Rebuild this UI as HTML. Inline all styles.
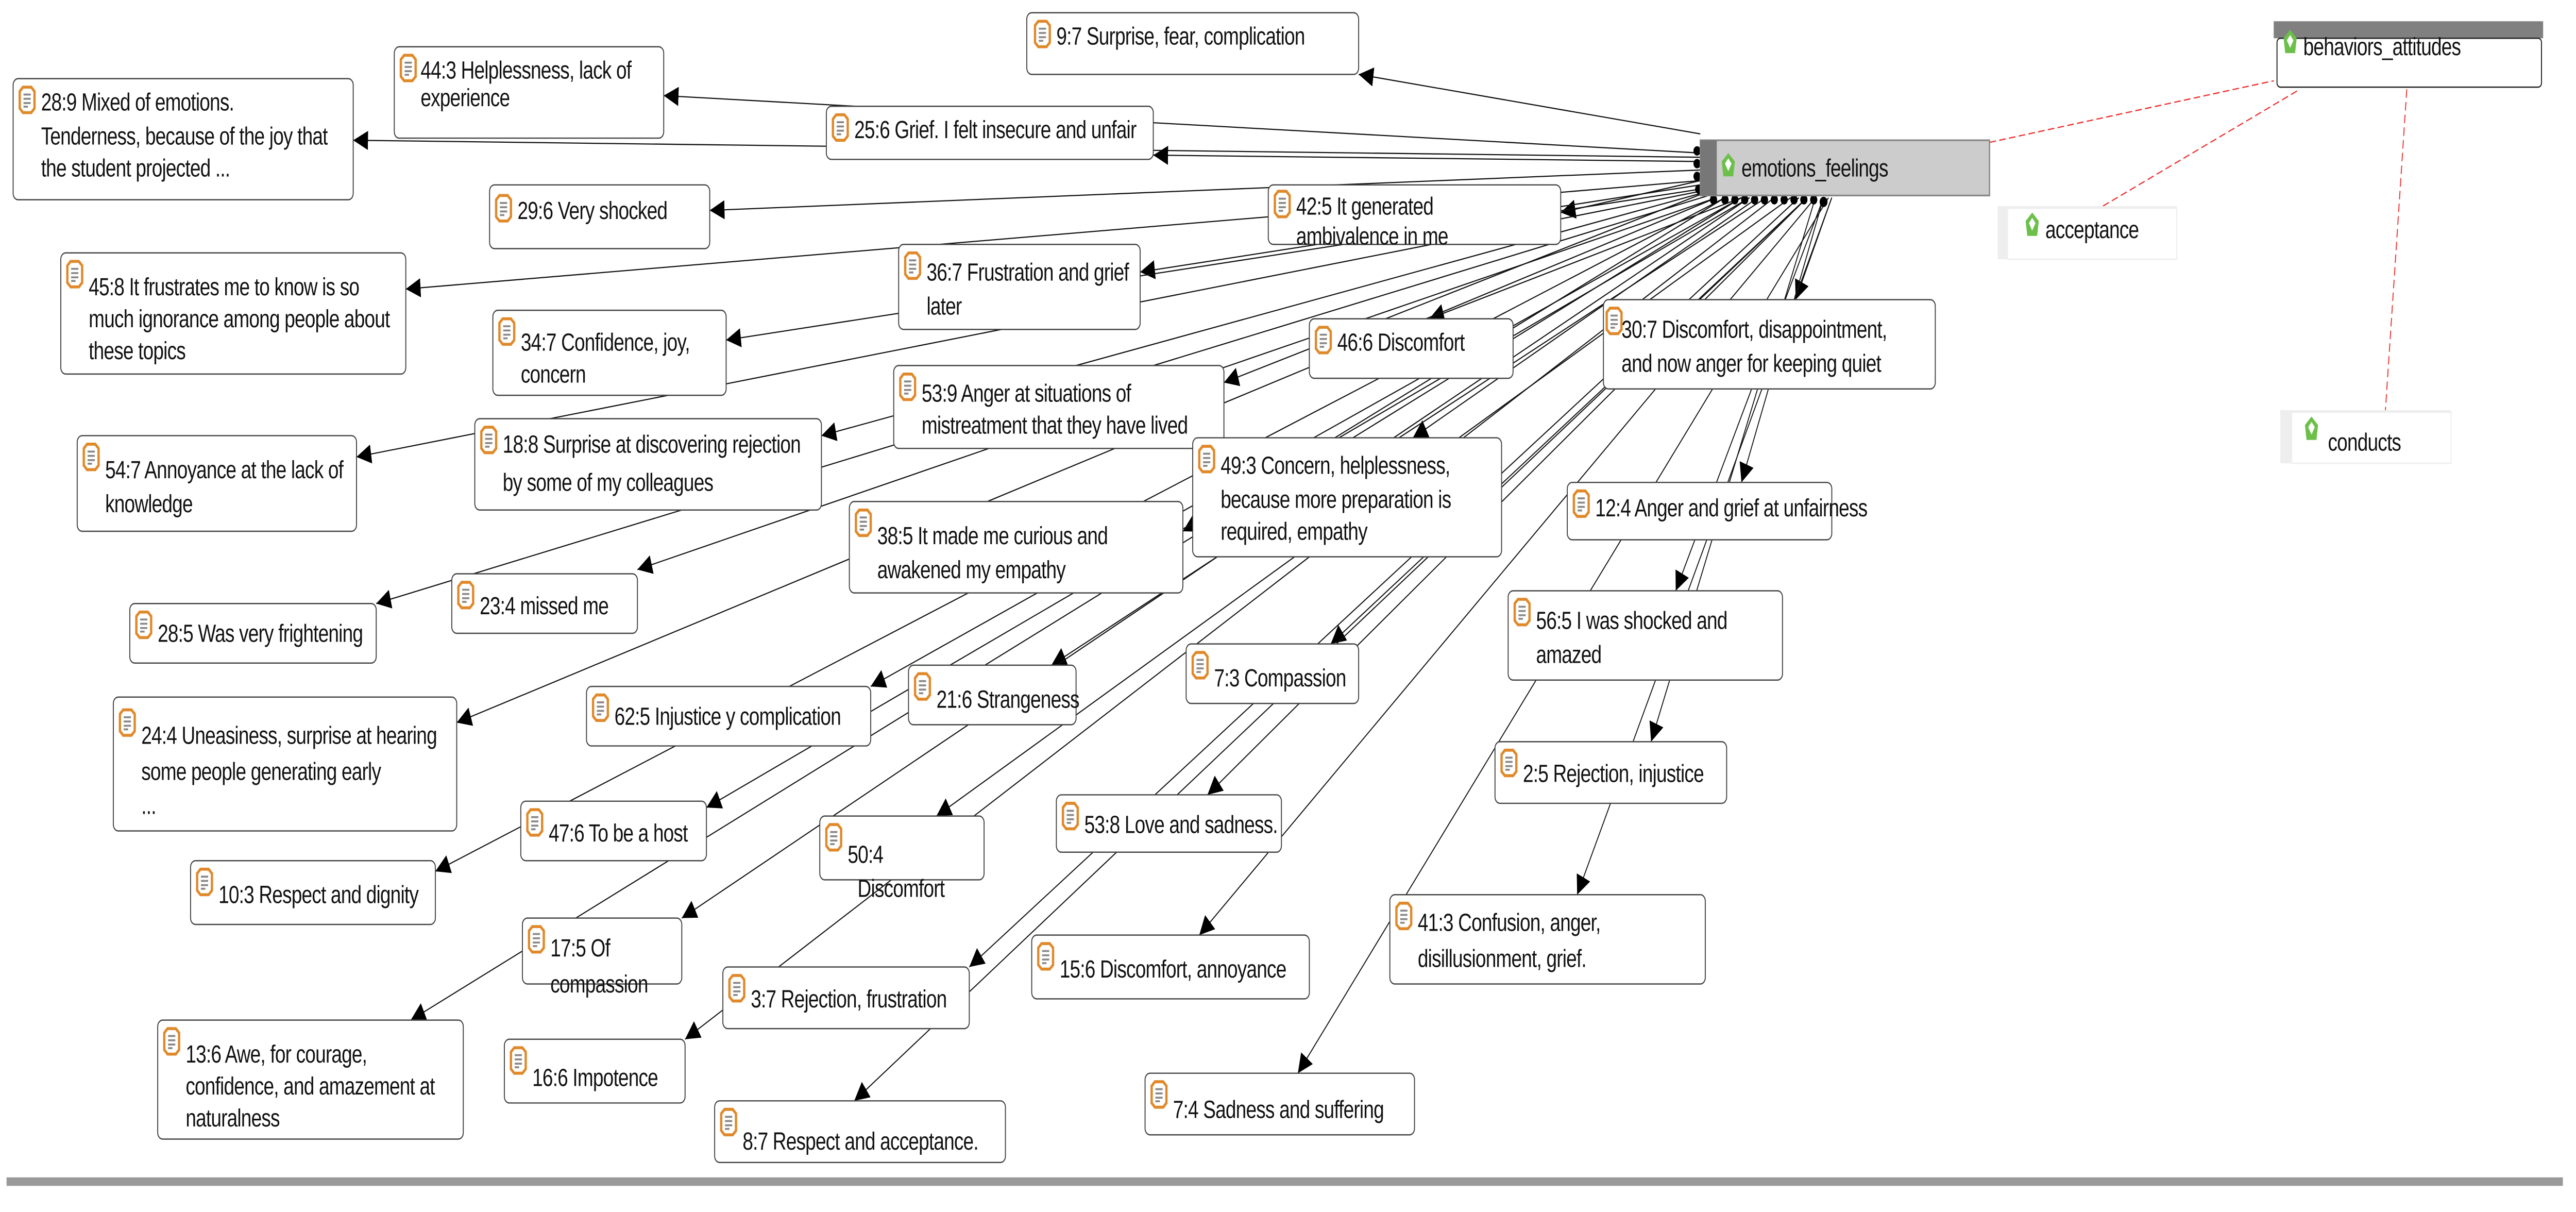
<!DOCTYPE html>
<html><head><meta charset="utf-8"><style>
html,body{margin:0;padding:0;background:#fff;width:100%;height:100%;overflow:hidden;}
svg{display:block;width:100vw;height:100vh;}
text{font-family:"Liberation Sans",sans-serif;font-size:11.6px;fill:#111;letter-spacing:-0.25px;}
.b{fill:#fff;stroke:#444;stroke-width:0.6;}
.l{stroke:#111;stroke-width:0.55;fill:none;}
</style></head><body>
<svg viewBox="0 0 1568 570.3" preserveAspectRatio="none" xmlns="http://www.w3.org/2000/svg">
<defs>
<marker id="a" viewBox="0 0 10 10" refX="10" refY="5" markerWidth="9" markerHeight="9" markerUnits="userSpaceOnUse" orient="auto"><path d="M0,0 L10,5 L0,10 z" fill="#000"/></marker>
<g id="ic"><path d="M2,0 H7 L9,2 V10 L7,12 H2 L0,10 V2 z" fill="#fff" stroke="#e0892a" stroke-width="1.4"/><path d="M2.3,3.5H6.7M2.3,5.5H6.7M2.3,7.5H6.7M2.3,9.2H5" stroke="#888" stroke-width="0.9"/></g>
<g id="cd"><path d="M1,4 L5,0 L9,4 L8,11 L2,11 z" fill="#6cc04a"/><path d="M3,5 L5,2.5 L7,5 L5,8.5 z" fill="#fff"/></g>
</defs>
<g class="l" marker-end="url(#a)">
<line x1="1035" y1="63" x2="827" y2="35"/>
<line x1="1035" y1="72" x2="404" y2="45"/>
<line x1="1035" y1="74" x2="215" y2="66"/>
<line x1="1035" y1="76" x2="702" y2="73"/>
<line x1="1035" y1="80" x2="432" y2="99"/>
<line x1="1035" y1="85" x2="950" y2="100"/>
<line x1="1035" y1="85" x2="247" y2="136"/>
<line x1="1035" y1="87" x2="694" y2="128"/>
<line x1="1035" y1="89" x2="442" y2="160"/>
<line x1="1060" y1="93" x2="870" y2="150"/>
<line x1="1115" y1="93" x2="1093" y2="141"/>
<line x1="1040" y1="90" x2="745" y2="180"/>
<line x1="1040" y1="90" x2="500" y2="205"/>
<line x1="1035" y1="90" x2="217" y2="215"/>
<line x1="1070" y1="93" x2="860" y2="206"/>
<line x1="1110" y1="93" x2="1060" y2="227"/>
<line x1="1050" y1="93" x2="720" y2="250"/>
<line x1="1045" y1="93" x2="388" y2="268"/>
<line x1="1040" y1="92" x2="229" y2="284"/>
<line x1="1110" y1="93" x2="1020" y2="278"/>
<line x1="1100" y1="93" x2="810" y2="303"/>
<line x1="1075" y1="93" x2="640" y2="313"/>
<line x1="1060" y1="93" x2="530" y2="323"/>
<line x1="1045" y1="93" x2="278" y2="340"/>
<line x1="1105" y1="93" x2="1005" y2="349"/>
<line x1="1100" y1="93" x2="735" y2="374"/>
<line x1="1065" y1="93" x2="430" y2="380"/>
<line x1="1090" y1="93" x2="570" y2="384"/>
<line x1="1050" y1="93" x2="265" y2="410"/>
<line x1="1115" y1="93" x2="960" y2="421"/>
<line x1="1065" y1="93" x2="415" y2="432"/>
<line x1="1105" y1="93" x2="730" y2="440"/>
<line x1="1095" y1="93" x2="590" y2="455"/>
<line x1="1060" y1="93" x2="250" y2="480"/>
<line x1="1080" y1="93" x2="417" y2="489"/>
<line x1="1113" y1="93" x2="790" y2="505"/>
<line x1="1100" y1="93" x2="520" y2="518"/>
</g>
<g fill="#000">
<circle cx="1033" cy="71" r="2.2"/><circle cx="1033" cy="77" r="2.2"/><circle cx="1033" cy="83" r="2.2"/><circle cx="1034" cy="89" r="2.2"/>
<circle cx="1043" cy="94" r="2.2"/><circle cx="1050" cy="94" r="2.2"/><circle cx="1056" cy="94" r="2.2"/><circle cx="1062" cy="94" r="2.2"/><circle cx="1068" cy="94" r="2.2"/><circle cx="1074" cy="94" r="2.2"/><circle cx="1080" cy="94" r="2.2"/><circle cx="1086" cy="94" r="2.2"/><circle cx="1092" cy="94" r="2.2"/><circle cx="1098" cy="94" r="2.2"/><circle cx="1104" cy="94" r="2.2"/><circle cx="1110" cy="95" r="2.4"/>
</g>
<g stroke="#e33" stroke-width="0.6" stroke-dasharray="4,2" fill="none">
<line x1="1211" y1="67" x2="1384" y2="38"/>
<line x1="1280" y1="97" x2="1400" y2="42"/>
<line x1="1465" y1="42" x2="1452" y2="193"/>
</g>
<rect x="1035" y="66" width="176" height="26" fill="#ccc" stroke="#888" stroke-width="0.8"/>
<rect x="1035" y="66" width="10" height="26" fill="#777"/>
<use href="#cd" x="1047" y="72"/>
<text x="1060" y="83">emotions_feelings</text>
<rect x="1384" y="10" width="164" height="8" fill="#808080"/>
<rect x="1386" y="18" width="161" height="23" rx="2" fill="#fff" stroke="#222" stroke-width="0.6"/>
<use href="#cd" x="1389" y="14"/>
<text x="1402" y="26">behaviors_attitudes</text>
<rect x="1216" y="97" width="109" height="25" fill="#eee"/><rect x="1222" y="98" width="103" height="24" fill="#fff" stroke="#eee" stroke-width="0.6"/>
<use href="#cd" x="1232" y="100"/><text x="1245" y="112">acceptance</text>
<rect x="1388" y="193" width="104" height="25" fill="#eee"/><rect x="1395" y="194" width="97" height="24" fill="#fff" stroke="#eee" stroke-width="0.6"/>
<use href="#cd" x="1402" y="196"/><text x="1417" y="212">conducts</text>
<g>
<rect class="b" x="625" y="6" width="202" height="29" rx="3"/><use href="#ic" x="630" y="10"/><text x="643" y="21">9:7 Surprise, fear, complication</text>
<rect class="b" x="240" y="22" width="164" height="43" rx="3"/><use href="#ic" x="244" y="26"/><text x="256" y="37">44:3 Helplessness, lack of</text><text x="256" y="50">experience</text>
<rect class="b" x="8" y="37" width="207" height="57" rx="3"/><use href="#ic" x="12" y="41"/><text x="25" y="52">28:9 Mixed of emotions.</text><text x="25" y="68">Tenderness, because of the joy that</text><text x="25" y="83">the student projected ...</text>
<rect class="b" x="503" y="50" width="199" height="25" rx="3"/><use href="#ic" x="507" y="54"/><text x="520" y="65">25:6 Grief. I felt insecure and unfair</text>
<rect class="b" x="298" y="87" width="134" height="30" rx="3"/><use href="#ic" x="302" y="92"/><text x="315" y="103">29:6 Very shocked</text>
<rect class="b" x="772" y="87" width="178" height="28" rx="3"/><use href="#ic" x="776" y="90"/><text x="789" y="101">42:5 It generated</text><text x="789" y="115">ambivalence in me</text>
<rect class="b" x="37" y="119" width="210" height="57" rx="3"/><use href="#ic" x="41" y="123"/><text x="54" y="139">45:8 It frustrates me to know is so</text><text x="54" y="154">much ignorance among people about</text><text x="54" y="169">these topics</text>
<rect class="b" x="547" y="115" width="147" height="40" rx="3"/><use href="#ic" x="551" y="119"/><text x="564" y="132">36:7 Frustration and grief</text><text x="564" y="148">later</text>
<rect class="b" x="300" y="146" width="142" height="40" rx="3"/><use href="#ic" x="304" y="150"/><text x="317" y="165">34:7 Confidence, joy,</text><text x="317" y="180">concern</text>
<rect class="b" x="797" y="150" width="124" height="28" rx="3"/><use href="#ic" x="801" y="154"/><text x="814" y="165">46:6 Discomfort</text>
<rect class="b" x="976" y="141" width="202" height="42" rx="3"/><use href="#ic" x="978" y="145"/><text x="987" y="159">30:7 Discomfort, disappointment,</text><text x="987" y="175">and now anger for keeping quiet</text>
<rect class="b" x="544" y="172" width="201" height="39" rx="3"/><use href="#ic" x="548" y="176"/><text x="561" y="189">53:9 Anger at situations of</text><text x="561" y="204">mistreatment that they have lived</text>
<rect class="b" x="289" y="197" width="211" height="43" rx="3"/><use href="#ic" x="293" y="201"/><text x="306" y="213">18:8 Surprise at discovering rejection</text><text x="306" y="231">by some of my colleagues</text>
<rect class="b" x="47" y="205" width="170" height="45" rx="3"/><use href="#ic" x="51" y="209"/><text x="64" y="225">54:7 Annoyance at the lack of</text><text x="64" y="241">knowledge</text>
<rect class="b" x="726" y="206" width="188" height="56" rx="3"/><use href="#ic" x="730" y="210"/><text x="743" y="223">49:3 Concern, helplessness,</text><text x="743" y="239">because more preparation is</text><text x="743" y="254">required, empathy</text>
<rect class="b" x="954" y="227" width="161" height="27" rx="3"/><use href="#ic" x="958" y="231"/><text x="971" y="243">12:4 Anger and grief at unfairness</text>
<rect class="b" x="517" y="236" width="203" height="43" rx="3"/><use href="#ic" x="521" y="240"/><text x="534" y="256">38:5 It made me curious and</text><text x="534" y="272">awakened my empathy</text>
<rect class="b" x="275" y="270" width="113" height="28" rx="3"/><use href="#ic" x="279" y="274"/><text x="292" y="289">23:4 missed me</text>
<rect class="b" x="79" y="284" width="150" height="28" rx="3"/><use href="#ic" x="83" y="288"/><text x="96" y="302">28:5 Was very frightening</text>
<rect class="b" x="918" y="278" width="167" height="42" rx="3"/><use href="#ic" x="922" y="282"/><text x="935" y="296">56:5 I was shocked and</text><text x="935" y="312">amazed</text>
<rect class="b" x="722" y="303" width="105" height="28" rx="3"/><use href="#ic" x="726" y="307"/><text x="739" y="323">7:3 Compassion</text>
<rect class="b" x="553" y="313" width="102" height="28" rx="3"/><use href="#ic" x="557" y="317"/><text x="570" y="333">21:6 Strangeness</text>
<rect class="b" x="357" y="323" width="173" height="28" rx="3"/><use href="#ic" x="361" y="327"/><text x="374" y="341">62:5 Injustice y complication</text>
<rect class="b" x="69" y="328" width="209" height="63" rx="3"/><use href="#ic" x="73" y="334"/><text x="86" y="350">24:4 Uneasiness, surprise at hearing</text><text x="86" y="367">some people generating early</text><text x="86" y="383">...</text>
<rect class="b" x="910" y="349" width="141" height="29" rx="3"/><use href="#ic" x="914" y="353"/><text x="927" y="368">2:5 Rejection, injustice</text>
<rect class="b" x="643" y="374" width="137" height="27" rx="3"/><use href="#ic" x="647" y="378"/><text x="660" y="392">53:8 Love and sadness.</text>
<rect class="b" x="317" y="377" width="113" height="28" rx="3"/><use href="#ic" x="321" y="381"/><text x="334" y="396">47:6 To be a host</text>
<rect class="b" x="499" y="384" width="100" height="30" rx="3"/><use href="#ic" x="503" y="388"/><text x="516" y="406">50:4</text><text x="522" y="422">Discomfort</text>
<rect class="b" x="116" y="405" width="149" height="30" rx="3"/><use href="#ic" x="120" y="409"/><text x="133" y="425">10:3 Respect and dignity</text>
<rect class="b" x="846" y="421" width="192" height="42" rx="3"/><use href="#ic" x="850" y="425"/><text x="863" y="438">41:3 Confusion, anger,</text><text x="863" y="455">disillusionment, grief.</text>
<rect class="b" x="318" y="432" width="97" height="31" rx="3"/><use href="#ic" x="322" y="436"/><text x="335" y="450">17:5 Of</text><text x="335" y="467">compassion</text>
<rect class="b" x="628" y="440" width="169" height="30" rx="3"/><use href="#ic" x="632" y="444"/><text x="645" y="460">15:6 Discomfort, annoyance</text>
<rect class="b" x="440" y="455" width="150" height="29" rx="3"/><use href="#ic" x="444" y="459"/><text x="457" y="474">3:7 Rejection, frustration</text>
<rect class="b" x="96" y="480" width="186" height="56" rx="3"/><use href="#ic" x="100" y="484"/><text x="113" y="500">13:6 Awe, for courage,</text><text x="113" y="515">confidence, and amazement at</text><text x="113" y="530">naturalness</text>
<rect class="b" x="307" y="489" width="110" height="30" rx="3"/><use href="#ic" x="311" y="493"/><text x="324" y="511">16:6 Impotence</text>
<rect class="b" x="697" y="505" width="164" height="29" rx="3"/><use href="#ic" x="701" y="509"/><text x="714" y="526">7:4 Sadness and suffering</text>
<rect class="b" x="435" y="518" width="177" height="29" rx="3"/><use href="#ic" x="439" y="522"/><text x="452" y="541">8:7 Respect and acceptance.</text>
</g>
<rect x="4" y="554" width="1556" height="4" fill="#999"/>
</svg>
</body></html>
